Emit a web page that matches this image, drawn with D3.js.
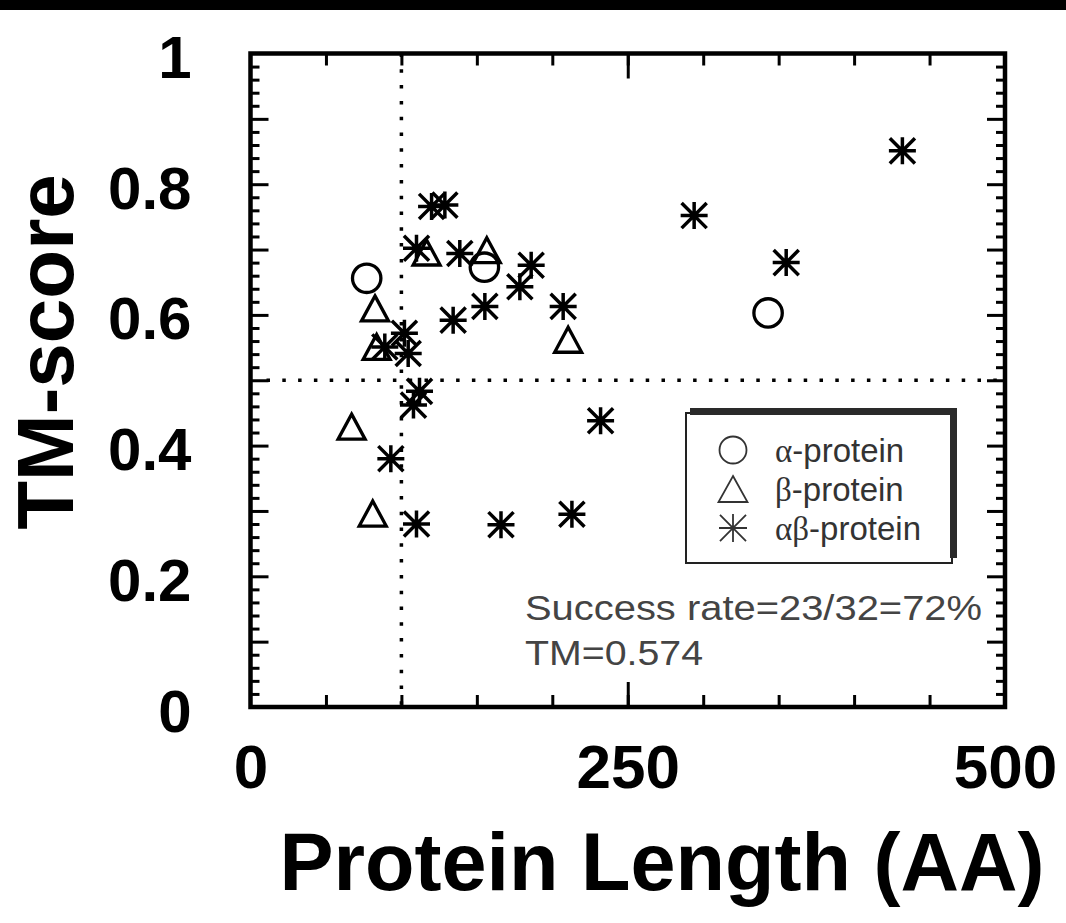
<!DOCTYPE html>
<html>
<head>
<meta charset="utf-8">
<script src="https://cdn.jsdelivr.net/npm/d3@7"></script>
<style>
  body { margin: 0; background: #fff; }
  svg { display: block; }
</style>
</head>
<body>
<svg id="chart" width="1066" height="923"></svg>
<script>
// TM-score versus protein length, grouped by structural class.
const alphaLength = [77, 155, 343];
const alphaTM     = [0.656, 0.673, 0.603];

const betaLength = [67, 81, 82.5, 83.6, 116.7, 156.6, 210.5];
const betaTM     = [0.429, 0.296, 0.610, 0.551, 0.6955, 0.699, 0.562];

const abLength = [432, 294, 355, 232, 213, 166, 110, 93, 112, 108, 102, 104.5, 89,
                  120, 128.8, 110, 138.7, 186, 178.5, 155.3, 207.2, 134.3];
const abTM     = [0.851, 0.752, 0.680, 0.438, 0.295, 0.279, 0.280, 0.380, 0.483, 0.462, 0.572, 0.541, 0.551,
                  0.766, 0.768, 0.702, 0.694, 0.676, 0.643, 0.613, 0.613, 0.592];

const xLabelTicks = [0, 250, 500];
const yLabelTicks = [0, 0.2, 0.4, 0.6, 0.8, 1];
const xMajorTicks = [50, 100, 150, 200, 250, 300, 350, 400, 450];
const xLongTicks  = [250];
const yMajorTicks = [0.1, 0.2, 0.3, 0.4, 0.5, 0.6, 0.7, 0.8, 0.9];
const yMinorTicks = d3.range(1, 50).map(i => i / 50).filter(v => Math.abs(v * 10 - Math.round(v * 10)) > 1e-6);

const lengthCut = 100;   // vertical reference line
const tmCut = 0.5;       // horizontal reference line

const legendNames = [["α", "-protein"], ["β", "-protein"], ["αβ", "-protein"]];
const statLines = ["Success rate=23/32=72%", "TM=0.574"];

const svg = d3.select("#chart");
const x = d3.scaleLinear().domain([0, 500]).range([250.5, 1005]);
const y = d3.scaleLinear().domain([0, 1]).range([707, 53.5]);

// black strip along the top edge
svg.append("rect").attr("x", 0).attr("y", 0).attr("width", 1066).attr("height", 10).attr("fill", "#000");

// reference lines
const dots = { stroke: "#000", "stroke-width": 3.5, "stroke-dasharray": "3.5,12.3" };
const vline = svg.append("line")
  .attr("x1", x(lengthCut)).attr("x2", x(lengthCut)).attr("y1", y(1)).attr("y2", y(0));
const hline = svg.append("line")
  .attr("x1", x(0) + 16).attr("x2", x(500)).attr("y1", y(tmCut)).attr("y2", y(tmCut));
[vline, hline].forEach(l => Object.entries(dots).forEach(([k, v]) => l.attr(k, v)));

// inward tick marks on all four sides
function ticks(axis, tx, ty) {
  const g = svg.append("g").attr("transform", `translate(${tx},${ty})`).call(axis);
  g.select(".domain").remove();
  g.selectAll("line").attr("stroke", "#000").attr("stroke-width", 3);
  g.selectAll("text").remove();
  return g;
}
ticks(d3.axisLeft(y).tickValues(yMajorTicks).tickSize(-18), x(0), 0);
ticks(d3.axisLeft(y).tickValues(yMinorTicks).tickSize(-9), x(0), 0);
ticks(d3.axisRight(y).tickValues(yMajorTicks).tickSize(-18), x(500), 0);
ticks(d3.axisRight(y).tickValues(yMinorTicks).tickSize(-9), x(500), 0);
ticks(d3.axisTop(x).tickValues(xMajorTicks).tickSize(-12), 0, y(1));
ticks(d3.axisTop(x).tickValues(xLongTicks).tickSize(-25), 0, y(1));
ticks(d3.axisBottom(x).tickValues(xMajorTicks).tickSize(-12), 0, y(0));
ticks(d3.axisBottom(x).tickValues(xLongTicks).tickSize(-25), 0, y(0));

// frame
svg.append("rect")
  .attr("x", x(0)).attr("y", y(1))
  .attr("width", x(500) - x(0)).attr("height", y(0) - y(1))
  .attr("fill", "none").attr("stroke", "#000").attr("stroke-width", 4.5);

// tick labels
const yLab = svg.append("g").attr("transform", `translate(${x(0)},0)`)
  .call(d3.axisLeft(y).tickValues(yLabelTicks).tickSize(0).tickPadding(59)
    .tickFormat(d => d === 0 ? "0" : d === 1 ? "1" : d3.format(".1f")(d)));
yLab.select(".domain").remove();
yLab.selectAll("text")
  .attr("font-family", "'Liberation Sans', Arial, sans-serif")
  .attr("font-weight", "bold").attr("font-size", 60).attr("fill", "#000")
  .attr("dy", "0.4em");

const xLab = svg.append("g").attr("transform", `translate(0,${y(0)})`)
  .call(d3.axisBottom(x).tickValues(xLabelTicks).tickSize(0).tickPadding(37).tickFormat(d3.format("d")));
xLab.select(".domain").remove();
xLab.selectAll("text")
  .attr("font-family", "'Liberation Sans', Arial, sans-serif")
  .attr("font-weight", "bold").attr("font-size", 62).attr("fill", "#000");

// axis titles
svg.append("text")
  .attr("x", 662).attr("y", 890).attr("text-anchor", "middle")
  .attr("font-family", "'Liberation Sans', Arial, sans-serif")
  .attr("font-weight", "bold").attr("font-size", 81).attr("fill", "#000")
  .text("Protein Length (AA)");
svg.append("text")
  .attr("transform", "translate(73,352) rotate(-90)").attr("text-anchor", "middle")
  .attr("font-family", "'Liberation Sans', Arial, sans-serif")
  .attr("font-weight", "bold").attr("font-size", 80).attr("fill", "#000")
  .text("TM-score");

// marker shapes
const trianglePath = (w, h) => `M0,${-h / 2}L${w / 2},${h / 2}L${-w / 2},${h / 2}Z`;
const asteriskPath = r => {
  const d = r * 0.93;
  return `M0,${-r}V${r}M${-r},0H${r}M${-d},${-d}L${d},${d}M${d},${-d}L${-d},${d}`;
};

const marks = svg.append("g").attr("fill", "none").attr("stroke", "#000");

marks.selectAll("circle.alpha").data(d3.zip(alphaLength, alphaTM)).join("circle")
  .attr("class", "alpha")
  .attr("cx", d => x(d[0])).attr("cy", d => y(d[1])).attr("r", 14.2)
  .attr("stroke-width", 3.3);

marks.selectAll("path.beta").data(d3.zip(betaLength, betaTM)).join("path")
  .attr("class", "beta")
  .attr("transform", d => `translate(${x(d[0])},${y(d[1])})`)
  .attr("d", trianglePath(27, 25))
  .attr("stroke-width", 3.3).attr("stroke-linejoin", "miter");

marks.selectAll("path.ab").data(d3.zip(abLength, abTM)).join("path")
  .attr("class", "ab")
  .attr("transform", d => `translate(${x(d[0])},${y(d[1])})`)
  .attr("d", asteriskPath(13.5))
  .attr("stroke-width", 3.5);

// legend box with shadow on top and right
const lg = svg.append("g");
lg.append("rect").attr("x", 686).attr("y", 413).attr("width", 266).attr("height", 150)
  .attr("fill", "#fff").attr("stroke", "#222").attr("stroke-width", 2);
lg.append("rect").attr("x", 690).attr("y", 408).attr("width", 267).attr("height", 7).attr("fill", "#2a2a2a");
lg.append("rect").attr("x", 950).attr("y", 408).attr("width", 7).attr("height", 150).attr("fill", "#2a2a2a");

const legendY = [450, 489, 528];
const legendSym = lg.append("g").attr("fill", "none").attr("stroke", "#333").attr("stroke-width", 1.8);
legendSym.append("circle").attr("cx", 733).attr("cy", legendY[0]).attr("r", 13.5);
legendSym.append("path").attr("transform", `translate(733,${legendY[1]})`).attr("d", trianglePath(29, 26));
legendSym.append("path").attr("transform", `translate(733,${legendY[2]})`).attr("d", asteriskPath(14));

legendNames.forEach((n, i) => {
  const t = lg.append("text").attr("x", 775).attr("y", legendY[i] + 12)
    .attr("font-size", 33).attr("fill", "#333")
    .attr("font-family", "'Liberation Sans', Arial, sans-serif");
  t.append("tspan").attr("font-family", "'Liberation Serif', 'Times New Roman', serif").text(n[0]);
  t.append("tspan").text(n[1]);
});

// summary annotation
const statWidths = [457, 178];
statLines.forEach((s, i) => {
  svg.append("text").attr("x", 525).attr("y", 620 + i * 45)
    .attr("font-family", "'Liberation Sans', Arial, sans-serif")
    .attr("font-size", 35).attr("fill", "#444")
    .attr("textLength", statWidths[i]).attr("lengthAdjust", "spacingAndGlyphs")
    .text(s);
});
</script>
</body>
</html>
